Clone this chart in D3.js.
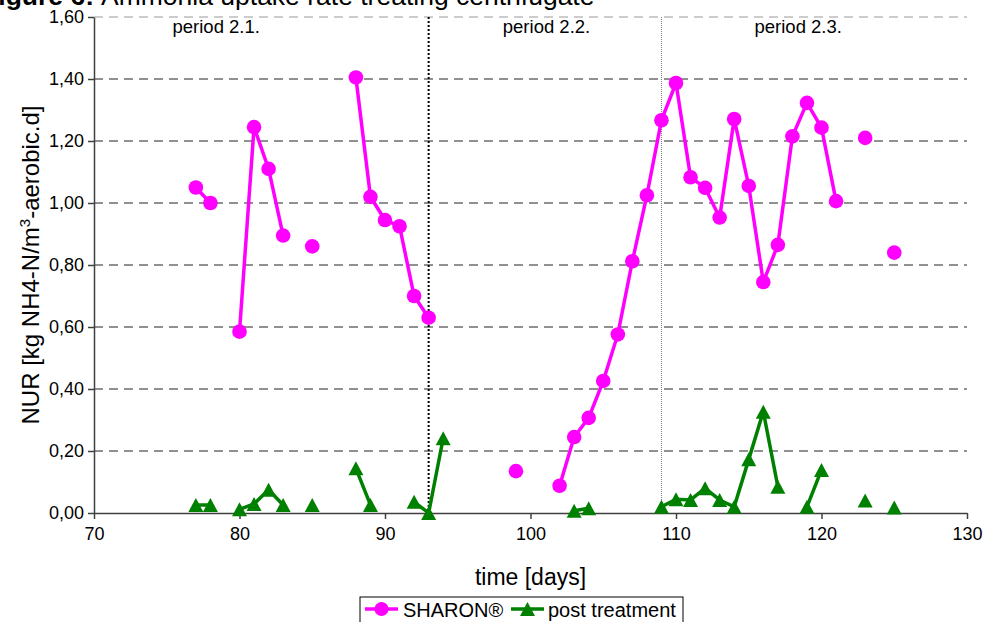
<!DOCTYPE html>
<html>
<head>
<meta charset="utf-8">
<script src="https://cdn.jsdelivr.net/npm/d3@7"></script>
<style>
  body { margin: 0; background: #fff; }
  svg { display: block; font-family: Arial, "Liberation Sans", sans-serif; }
</style>
</head>
<body>
<svg id="chart" width="986" height="622"></svg>
<script>
// days 77..125, null = no measurement that day (breaks the line)
var days = d3.range(77, 126);

var sharonNUR = [
	1.05, 1.00, null, 0.585, 1.245, 1.11, 0.895, null, 0.86, null,
	null, 1.405, 1.02, 0.945, 0.925, 0.70, 0.63, null, null, null,
	null, null, 0.135, null, null, 0.088, 0.245, 0.307, 0.426, 0.576,
	0.812, 1.025, 1.267, 1.387, 1.083, 1.049, 0.953, 1.271, 1.055, 0.745,
	0.865, 1.215, 1.323, 1.243, 1.006, null, 1.21, null, 0.84
];

var postNUR = [
	0.026, 0.026, null, 0.012, 0.029, 0.075, 0.026, null, 0.026, null,
	null, 0.144, 0.026, null, null, 0.036, 0.0, 0.241, null, null,
	null, null, null, null, null, null, 0.007, 0.015, null, null,
	null, null, 0.02, 0.044, 0.042, 0.08, 0.042, 0.02, 0.173, 0.327,
	0.085, null, 0.02, 0.139, null, null, 0.04, null, 0.018
];

var xTicks = [70, 80, 90, 100, 110, 120, 130];
var yTicks = [0, 0.2, 0.4, 0.6, 0.8, 1.0, 1.2, 1.4, 1.6];
var periodBreaks = [93, 109];
var periodLabels = [
	{ text: "period 2.1.", day: 78.4 },
	{ text: "period 2.2.", day: 101.1 },
	{ text: "period 2.3.", day: 118.4 }
];

var svg = d3.select("#chart");
var plotLeft = 94, plotRight = 967, plotTop = 17, plotBottom = 513;

var x = d3.scaleLinear().domain([70, 130]).range([plotLeft, plotRight]);
var y = d3.scaleLinear().domain([0, 1.6]).range([plotBottom, plotTop]);
var fmt = function(v){ return d3.format(".2f")(v).replace(".", ","); };

// title, clipped at the top like the original
svg.append("text")
	.attr("x", 94).attr("y", 5)
	.attr("text-anchor", "end")
	.attr("font-weight", "bold")
	.style("font-size", "26.5px")
	.text("Figure 6:");
svg.append("text")
	.attr("x", 101).attr("y", 5)
	.style("font-size", "26.5px")
	.text("Ammonia uptake rate treating centrifugate");

// horizontal gridlines
svg.append("g").selectAll("line")
	.data(yTicks.filter(function(d){ return d > 0; }))
	.enter().append("line")
		.attr("x1", plotLeft).attr("x2", plotRight)
		.attr("y1", function(d){ return y(d); })
		.attr("y2", function(d){ return y(d); })
		.attr("stroke", function(d){ return d == 1.6 ? "#999" : "#222"; })
		.attr("stroke-width", 1)
		.attr("stroke-dasharray", "9,6");

// period separators
svg.append("line")
	.attr("x1", x(periodBreaks[0])).attr("x2", x(periodBreaks[0]))
	.attr("y1", plotTop).attr("y2", plotBottom)
	.attr("stroke", "#000").attr("stroke-width", 2).attr("stroke-dasharray", "2,2");
svg.append("line")
	.attr("x1", x(periodBreaks[1])).attr("x2", x(periodBreaks[1]))
	.attr("y1", plotTop).attr("y2", plotBottom)
	.attr("stroke", "#777").attr("stroke-width", 1).attr("stroke-dasharray", "1,1");

svg.selectAll(".period")
	.data(periodLabels)
	.enter().append("text").classed("period", true)
		.attr("x", function(d){ return x(d.day); })
		.attr("y", 33)
		.attr("text-anchor", "middle")
		.style("font-size", "18.5px")
		.text(function(d){ return d.text; });

// axes
var xAxis = svg.append("g")
	.attr("transform", "translate(0," + plotBottom + ")")
	.call(d3.axisBottom(x).tickValues(xTicks).tickSize(6).tickSizeOuter(0));
var yAxis = svg.append("g")
	.attr("transform", "translate(" + plotLeft + ",0)")
	.call(d3.axisLeft(y).tickValues(yTicks).tickFormat(fmt).tickSize(6).tickSizeOuter(0));

[xAxis, yAxis].forEach(function(a){
	a.selectAll("path, line").attr("stroke", "#404040").attr("stroke-width", 1.5);
	a.selectAll("text").attr("fill", "#000")
		.style("font-size", "18px").style("font-family", "Arial, 'Liberation Sans', sans-serif");
});
xAxis.selectAll("text").attr("y", 14).attr("dy", "0.71em");
yAxis.selectAll("text").attr("x", -10);

svg.append("text")
	.attr("x", (plotLeft + plotRight)/2).attr("y", 585)
	.attr("text-anchor", "middle")
	.style("font-size", "23px")
	.text("time [days]");

var yl = svg.append("text")
	.attr("transform", "translate(39," + (plotBottom + plotTop)/2 + ") rotate(-90)")
	.attr("text-anchor", "middle")
	.style("font-size", "24px");
yl.append("tspan").text("NUR [kg NH4-N/m");
yl.append("tspan").attr("dy", -9).style("font-size", "15px").text("3");
yl.append("tspan").attr("dy", 9).text("-aerobic.d]");

// series
var pts = function(vals){
	return days.map(function(d, i){ return { day: d, v: vals[i] }; });
};
var line = d3.line()
	.defined(function(d){ return d.v != null; })
	.x(function(d){ return x(d.day); })
	.y(function(d){ return y(d.v); });

var sharon = pts(sharonNUR), post = pts(postNUR);
var tri = "M0,-7L7.5,7L-7.5,7Z";

svg.append("path").datum(sharon)
	.attr("d", line).attr("fill", "none")
	.attr("stroke", "#ff00ff").attr("stroke-width", 3.5);
svg.append("g").selectAll("circle")
	.data(sharon.filter(function(d){ return d.v != null; }))
	.enter().append("circle")
		.attr("cx", function(d){ return x(d.day); })
		.attr("cy", function(d){ return y(d.v); })
		.attr("r", 7.3)
		.attr("fill", "#ff00ff");

svg.append("path").datum(post)
	.attr("d", line).attr("fill", "none")
	.attr("stroke", "#008000").attr("stroke-width", 3.5);
svg.append("g").selectAll("path")
	.data(post.filter(function(d){ return d.v != null; }))
	.enter().append("path")
		.attr("d", tri)
		.attr("transform", function(d){ return "translate(" + x(d.day) + "," + y(d.v) + ")"; })
		.attr("fill", "#008000");

// legend
var lg = svg.append("g").attr("transform", "translate(360,597)");
lg.append("rect").attr("x", 0).attr("y", 0).attr("width", 323).attr("height", 30)
	.attr("fill", "#fff").attr("stroke", "#000").attr("stroke-width", 1);
lg.append("line").attr("x1", 5).attr("x2", 38).attr("y1", 12).attr("y2", 12)
	.attr("stroke", "#ff00ff").attr("stroke-width", 3.5);
lg.append("circle").attr("cx", 21.5).attr("cy", 12).attr("r", 7).attr("fill", "#ff00ff");
lg.append("text").attr("x", 43).attr("y", 20).style("font-size", "20px").text("SHARON®");
lg.append("line").attr("x1", 151).attr("x2", 184).attr("y1", 12).attr("y2", 12)
	.attr("stroke", "#008000").attr("stroke-width", 3.5);
lg.append("path").attr("d", tri).attr("transform", "translate(167.5,12)").attr("fill", "#008000");
lg.append("text").attr("x", 188).attr("y", 20).style("font-size", "20px").text("post treatment");
</script>
</body>
</html>
